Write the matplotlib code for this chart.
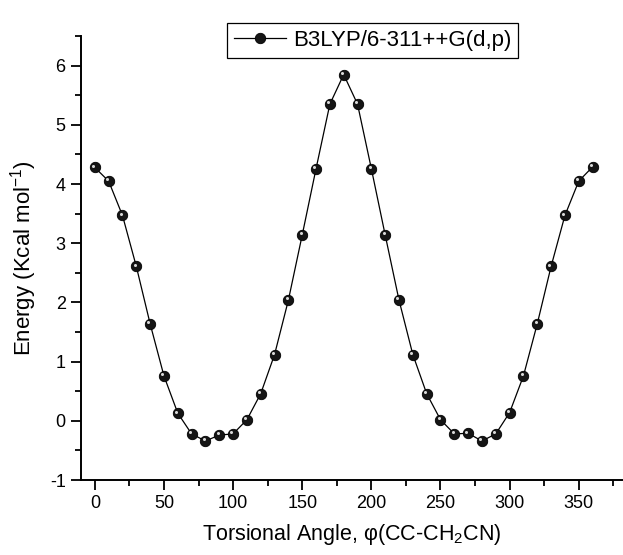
import matplotlib.pyplot as plt
import matplotlib.transforms as mtransforms
from matplotlib.ticker import MultipleLocator

plt.rcParams['font.family'] = ['Liberation Sans', 'DejaVu Sans']
plt.rcParams['mathtext.fontset'] = 'custom'
plt.rcParams['mathtext.rm'] = 'Liberation Sans'
plt.rcParams['mathtext.it'] = 'Liberation Sans:italic'
plt.rcParams['axes.unicode_minus'] = False

# torsional scan data
angle = [0, 10, 20, 30, 40, 50, 60, 70, 80, 90, 100, 110, 120, 130, 140, 150, 160, 170, 180,
         190, 200, 210, 220, 230, 240, 250, 260, 270, 280, 290, 300, 310, 320, 330, 340, 350, 360]
energy = [4.28, 4.05, 3.47, 2.61, 1.64, 0.76, 0.13, -0.22, -0.34, -0.24, -0.22, 0.02, 0.46, 1.12, 2.04, 3.14, 4.26, 5.35, 5.85,
          5.35, 4.26, 3.14, 2.04, 1.12, 0.46, 0.02, -0.22, -0.21, -0.34, -0.22, 0.14, 0.76, 1.64, 2.61, 3.47, 4.05, 4.29]
label = 'B3LYP/6-311++G(d,p)'

fig = plt.figure(figsize=(6.23, 5.55), dpi=100)
ax = fig.add_axes([0.130, 0.135, 0.870, 0.800])

line, = ax.plot(angle, energy, color='black', lw=0.9, marker='o', markersize=7.5,
                markerfacecolor='#151515', markeredgecolor='black', markeredgewidth=0.6)
# little shine on each ball
shine_tr = mtransforms.offset_copy(ax.transData, fig=fig, x=-1.2, y=1.2, units='points')
ax.plot(angle, energy, ls='none', marker='o', markersize=2.2, color='#d8d8d8',
        markeredgewidth=0, transform=shine_tr)

ax.set_xlim(-10, 382)
ax.set_ylim(-1, 6.5)
ax.xaxis.set_major_locator(MultipleLocator(50))
ax.xaxis.set_minor_locator(MultipleLocator(25))
ax.yaxis.set_major_locator(MultipleLocator(1))
ax.yaxis.set_minor_locator(MultipleLocator(0.5))
ax.spines['top'].set_visible(False)
ax.spines['right'].set_visible(False)
for s in ['left', 'bottom']:
    ax.spines[s].set_linewidth(1.4)
ax.tick_params(which='major', direction='out', length=7, width=1.3, labelsize=13, pad=4)
ax.tick_params(which='minor', direction='out', length=4.5, width=1.3)

ax.set_xlabel('Torsional Angle, φ(CC-CH$_2$CN)', fontsize=15.5, labelpad=7)
ax.set_ylabel('Energy (Kcal mol$^{-1}$)', fontsize=16, labelpad=8)

leg = fig.legend([line], [label], loc='upper left', bbox_to_anchor=(0.347, 0.978),
                 fontsize=16, frameon=True, fancybox=False, edgecolor='black', framealpha=1,
                 handlelength=2.35, borderpad=0.3, handletextpad=0.3)
leg.get_frame().set_linewidth(0.9)

fig.savefig('out.png', dpi=100)
